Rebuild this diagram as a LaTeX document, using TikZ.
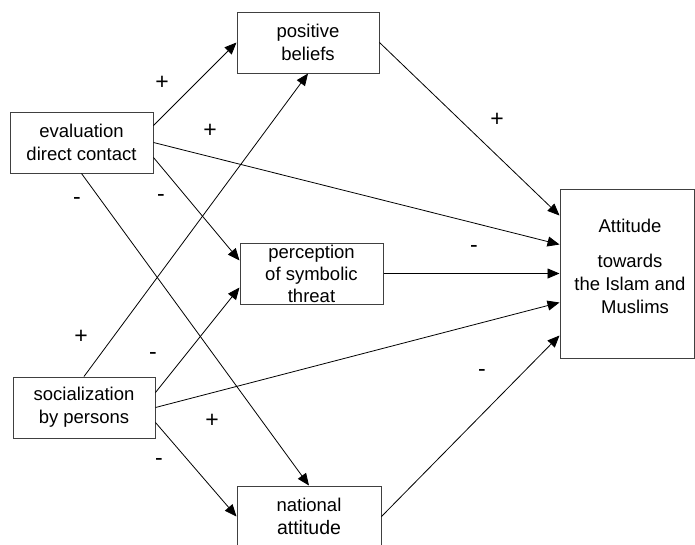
\documentclass[tikz,border=0pt]{standalone}
\usepackage{fontspec}
\setmainfont{Liberation Sans}
\usetikzlibrary{arrows.meta}

\begin{document}
\begin{tikzpicture}[x=1pt, y=-1pt,
  block/.style={rectangle, draw=black!75, line width=1pt, minimum height=61pt, inner sep=0pt, align=center, font=\fontsize{18.5}{23}\selectfont},
  arr/.style={-{Triangle[length=12pt, width=10pt]}, line width=0.8pt, black},
  sign/.style={inner sep=0pt, font=\fontsize{23}{24}\selectfont}
]
  \useasboundingbox (0,0) rectangle (695,544);

  \node[block, minimum width=143pt] (eval) at (81.5,142.5) {evaluation\\direct contact};
  \node[block, minimum width=142pt] (soc) at (84,407.5) {socialization\\by persons};
  \node[block, minimum width=142pt] (pos) at (308,42.5) {positive\\beliefs};
  \node[block, minimum width=143pt, font=\fontsize{18.5}{22}\selectfont] (perc) at (311.5,273.5) {perception\\of symbolic\\threat};
  \node[block, minimum width=144pt] (nat) at (309,516.5) {national\\{\fontsize{19.5}{23}\selectfont attitude}};
  \node[block, minimum width=134pt, minimum height=169pt] (att) at (627,273.5) {};
  \node[align=center, inner sep=0pt, font=\fontsize{18.5}{23}\selectfont] (atttext) at (630,266) {Attitude\\[12pt]towards\\the Islam and\\\hspace*{10pt}Muslims};

  \draw[arr] ([yshift=17pt]eval.east) -- (pos.west);
  \draw[arr] (eval.east) -- ([yshift=29pt]att.west);
  \draw[arr] ([yshift=-15pt]eval.east) -- ([yshift=13pt]perc.west);
  \draw[arr] (eval.south) -- (nat.north);

  \draw[arr] (soc.north) -- (pos.south);
  \draw[arr] ([yshift=15pt]soc.east) -- ([yshift=-14pt]perc.west);
  \draw[arr] (soc.east) -- ([yshift=-29pt]att.west);
  \draw[arr] ([yshift=-15pt]soc.east) -- (nat.west);

  \draw[arr] (pos.east) -- ([yshift=58pt]att.west);
  \draw[arr] (perc.east) -- (att.west);
  \draw[arr] (nat.east) -- ([yshift=-62pt]att.west);

  \node[sign] (s1) at (162,83) {+};
  \node[sign] (s2) at (210,131) {+};
  \node[sign] (s3) at (77,201) {-};
  \node[sign] (s4) at (161,198) {-};
  \node[sign] (s5) at (497,120) {+};
  \node[sign] (s6) at (474,249) {-};
  \node[sign] (s7) at (81,337) {+};
  \node[sign] (s8) at (153,356) {-};
  \node[sign] (s9) at (212,421) {+};
  \node[sign] (s10) at (159,462) {-};
  \node[sign] (s11) at (482,373) {-};
\end{tikzpicture}
\end{document}
